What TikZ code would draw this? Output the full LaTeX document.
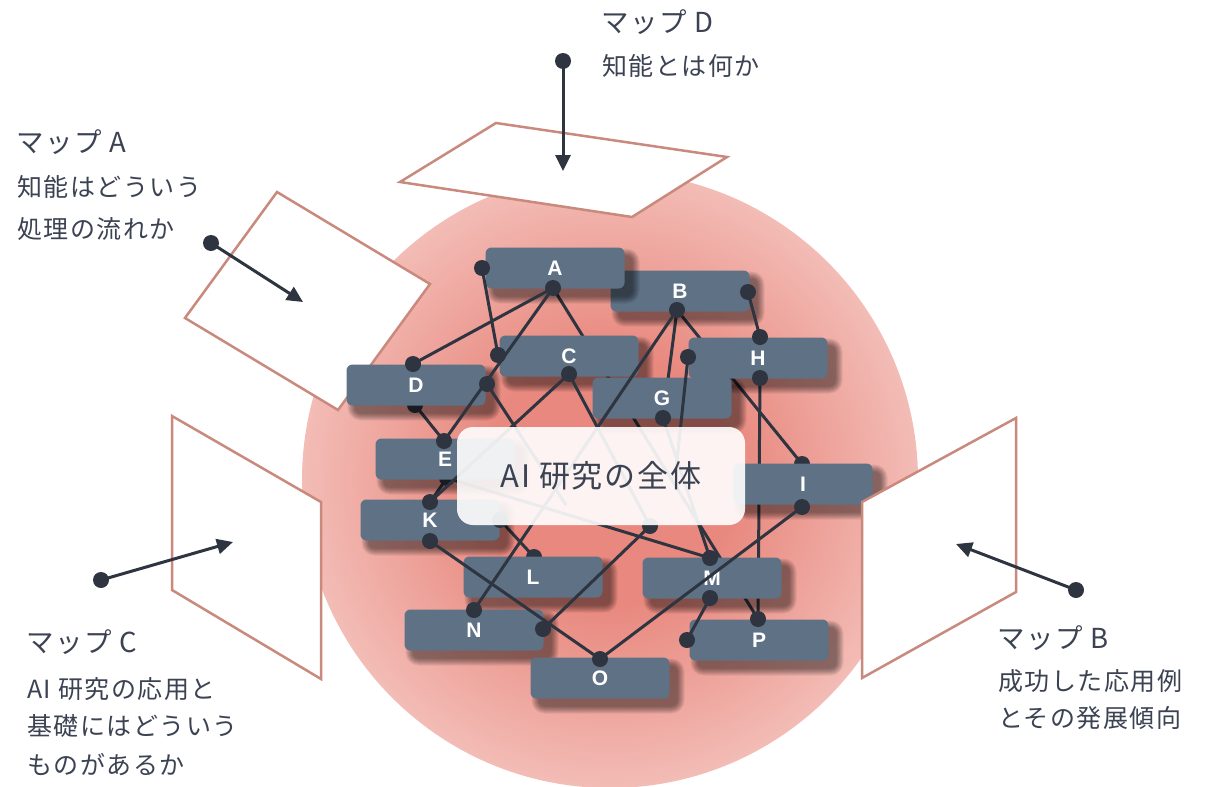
\documentclass[tikz,border=0pt]{standalone}
\usepackage{fontspec}
\newfontfamily\jp{Noto Sans CJK JP}[LetterSpace=6]
\newfontfamily\lab{Liberation Sans}
\usetikzlibrary{arrows.meta}
\definecolor{ink}{RGB}{46,52,64}
\definecolor{txt}{RGB}{59,66,82}
\definecolor{boxc}{RGB}{94,113,133}
\definecolor{planec}{RGB}{201,138,125}
\definecolor{cin}{RGB}{232,136,126}
\definecolor{cout}{RGB}{250,224,220}
\pgfdeclareradialshading{blob}{\pgfpoint{0bp}{0bp}}{color(0bp)=(cin); color(10bp)=(cin); color(35.3bp)=(cout); color(50bp)=(cout)}
\tikzset{
  nbox/.style={rectangle, rounded corners=6pt, fill=boxc, minimum width=139pt, minimum height=41pt, inner sep=0pt, text=white,
    font=\lab\bfseries\fontsize{21}{21}\selectfont},
  ed/.style={draw=ink, line width=3pt},
  plane/.style={fill=white, draw=planec, line width=2.5pt},
  arr/.style={draw=ink, line width=3pt, -{Triangle[length=16pt,width=15pt]}},
  lbl/.style={anchor=base west, inner sep=0pt, text=txt, font=\jp\fontsize{25}{30}\selectfont},
  ttl/.style={lbl, font=\jp\fontsize{27.5}{32}\selectfont},
}
\newcommand{\dotat}[1]{\fill[ink] (#1) circle (8);}
\newcommand{\gbox}[4]{%
  \foreach \i in {0,...,7}{%
    \pgfmathsetmacro\rr{6+\i}%
    \fill[black, opacity=0.065, rounded corners=\rr pt] ({#2-69.5+8-\i},{#3-20.5+8-\i}) rectangle ({#2+69.5+8+\i},{#3+20.5+8+\i});}
  \node[nbox] (#1) at (#2,#3) {#4};}
\begin{document}
\begin{tikzpicture}[x=1pt,y=-1pt]
\useasboundingbox (0,0) rectangle (1210,787);
% sphere
\shade[shading=blob] (610,480) circle [radius=308];
% planes
\draw[plane] (277,192) -- (430,284) -- (338,410) -- (185,318) -- cycle;
\draw[plane] (172,416) -- (321,502) -- (321,679) -- (172,590) -- cycle;
\draw[plane] (400,182) -- (496,123) -- (727,157) -- (632,217) -- cycle;
% connection points
\coordinate (Ab) at (553,288); \coordinate (Al) at (482,268);
\coordinate (Bb) at (677,310); \coordinate (Br) at (748,292);
\coordinate (Cl) at (498,355); \coordinate (Cb) at (569,374);
\coordinate (Dt) at (413,364); \coordinate (Db) at (415,405); \coordinate (Dr) at (487,384);
\coordinate (Et) at (444,441); \coordinate (Eb) at (447,478);
\coordinate (Gb) at (663,418);
\coordinate (Ht) at (760,337); \coordinate (Hb) at (760,378); \coordinate (Hl) at (688,357);
\coordinate (It) at (802,464); \coordinate (Ib) at (802,507);
\coordinate (Kt) at (430,502); \coordinate (Kb) at (430,541); \coordinate (Kr) at (500,520);
\coordinate (Lt) at (534,557);
\coordinate (Mt) at (710,558); \coordinate (Mb) at (710,598);
\coordinate (Nt) at (474,610); \coordinate (Nr) at (543,629);
\coordinate (Ot) at (600,659);
\coordinate (Pt) at (758,619); \coordinate (Pl) at (687,640);
\coordinate (X1) at (566,505); \coordinate (X2) at (650,526); \coordinate (X3) at (676,470);
% edges behind boxes
\draw[ed] (Db) -- (Et);
\draw[ed] (Eb) -- (Mt);
\draw[ed] (Kt) -- (Eb);
\draw[ed] (Bb) -- (Gb);
\draw[ed] (Bb) -- (It);
\draw[ed] (Hb) -- (Pt);
\draw[ed] (Ab) -- (Pt);
\draw[ed] (Kr) -- (Lt);
\dotat{Db}\dotat{Eb}\dotat{It}\dotat{Lt}
% boxes
\gbox{B}{680}{291}{B}
\gbox{A}{555}{268}{A}
\gbox{C}{569}{356}{C}
\gbox{D}{416}{385}{D}
\gbox{E}{445}{459}{E}
\gbox{H}{758}{358}{H}
\gbox{G}{662}{398}{G}
\gbox{I}{803}{484}{I}
\gbox{K}{430}{520}{K}
\gbox{L}{533}{577}{L}
\gbox{M}{712}{578}{M}
\gbox{N}{474}{630}{N}
\gbox{O}{600}{678}{O}
\gbox{P}{759}{640}{P}
% edges in front
\draw[ed] (Ab) -- (Dt);
\draw[ed] (Ab) -- (Et);
\draw[ed] (Al) -- (Cl);
\draw[ed] (Cb) -- (Kt);
\draw[ed] (Cb) -- (X2);
\draw[ed] (Dr) -- (X1);
\draw[ed] (Bb) -- (Nt);
\draw[ed] (Hl) -- (X3);
\draw[ed] (Gb) -- (Mt);
\draw[ed] (Kb) -- (Ot);
\draw[ed] (Ot) -- (Ib);
\draw[ed] (Mb) -- (Pl);
\draw[ed] (X2) -- (Nr);
\draw[ed] (Br) -- (Ht);
\foreach \p in {Ab,Al,Bb,Br,Cl,Cb,Dt,Dr,Et,Gb,Ht,Hb,Hl,Ib,Kt,Kb,Kr,Mt,Mb,Nt,Nr,Ot,Pt,Pl,X2}{\dotat{\p}}
% plane B in front of node I
\draw[plane] (862,502) -- (1016,418) -- (1016,592) -- (862,678) -- cycle;
% central label
\node[fill=white, fill opacity=0.9, text opacity=1, rounded corners=16pt, minimum width=288pt, minimum height=98pt,
  inner sep=0pt, text=txt, font=\jp\fontsize{31}{36}\selectfont] (main) at (601,476) {AI 研究の全体};
% arrows
\coordinate (dA) at (211,243); \coordinate (tA) at (303,302);
\coordinate (dB) at (1076,590); \coordinate (tB) at (956,544);
\coordinate (dC) at (101,580); \coordinate (tC) at (233,542);
\coordinate (dD) at (563,61); \coordinate (tD) at (563,171);
\draw[arr] (dA) -- (tA); \dotat{dA}
\draw[arr] (dB) -- (tB); \dotat{dB}
\draw[arr] (dC) -- (tC); \dotat{dC}
\draw[arr] (dD) -- (tD); \dotat{dD}
% labels
\node[ttl] (lD1) at (601,32) {マップ D};
\node[lbl] (lD2) at (602,75) {知能とは何か};
\node[ttl] (lA1) at (16,152) {マップ A};
\node[lbl] (lA2) at (17,196) {知能はどういう};
\node[lbl] (lA3) at (17,238) {処理の流れか};
\node[ttl] (lC1) at (26,652) {マップ C};
\node[lbl] (lC2) at (27,698) {AI 研究の応用と};
\node[lbl] (lC3) at (27,735) {基礎にはどういう};
\node[lbl] (lC4) at (27,774) {ものがあるか};
\node[ttl] (lB1) at (997,648) {マップ B};
\node[lbl] (lB2) at (998,690) {成功した応用例};
\node[lbl] (lB3) at (998,727) {とその発展傾向};
\end{tikzpicture}
\end{document}
